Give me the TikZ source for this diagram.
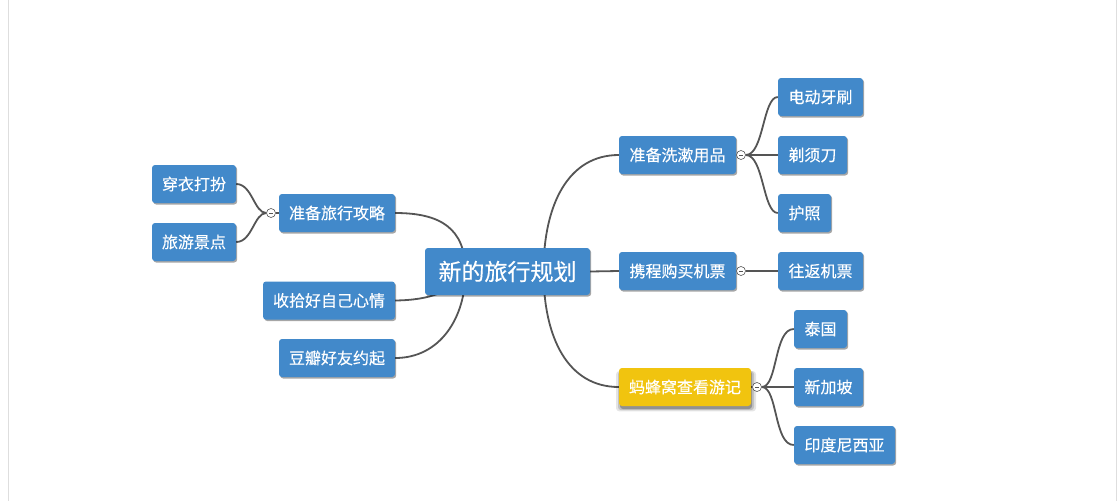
\documentclass[tikz,border=0pt]{standalone}
\usepackage{fontspec}
\setmainfont{Noto Sans CJK SC}[FakeBold=0.3]
\usetikzlibrary{shadows,backgrounds,calc}
\definecolor{nodeblue}{RGB}{66,137,202}
\definecolor{nodeyellow}{RGB}{241,196,15}
\definecolor{linegray}{RGB}{85,85,85}
\definecolor{framegray}{RGB}{222,222,222}
\tikzset{
  box/.style={fill=nodeblue, text=white, rounded corners=3pt, inner sep=0pt,
    minimum height=38pt, font=\fontsize{16}{19}\selectfont,
    drop shadow={shadow xshift=1.2pt, shadow yshift=-1.5pt, fill=black, opacity=0.35}},
  rootbox/.style={box, minimum height=47pt, font=\fontsize{23}{27}\selectfont},
  hotbox/.style={fill=nodeyellow, text=white, rounded corners=3pt, inner sep=0pt,
    minimum height=38pt, font=\fontsize{16}{19}\selectfont,
    drop shadow={shadow xshift=1pt, shadow yshift=-4pt, shadow scale=1.06, fill=black, opacity=0.10},
    drop shadow={shadow xshift=1pt, shadow yshift=-3.5pt, shadow scale=1.03, fill=black, opacity=0.15},
    drop shadow={shadow xshift=1pt, shadow yshift=-3pt, fill=black, opacity=0.25}},
  link/.style={draw=linegray, line width=1.8pt},
  fold/.style={circle, draw=linegray, fill=white, line width=0.6pt, inner sep=0pt, minimum size=9pt,
    path picture={\draw[linegray, line width=0.7pt] ([xshift=-1.6pt]path picture bounding box.center) -- ([xshift=1.6pt]path picture bounding box.center);}},
}
\begin{document}
\begin{tikzpicture}[x=1pt,y=-1pt]
\useasboundingbox (0,0) rectangle (1120,501);

% nodes
\node[rootbox, minimum width=165pt] (ctr) at (507.5,271.5) {新的旅行规划};
\node[box, minimum width=116pt] (gl) at (337,213) {准备旅行攻略};
\node[box, minimum width=84pt] (cy) at (194,184) {穿衣打扮};
\node[box, minimum width=84pt] (ly) at (194,242) {旅游景点};
\node[box, minimum width=132pt] (xq) at (329,300.5) {收拾好自己心情};
\node[box, minimum width=116pt] (db) at (337,358) {豆瓣好友约起};
\node[box, minimum width=117pt] (xs) at (677.5,155) {准备洗漱用品};
\node[box, minimum width=85pt] (dd) at (820.5,97) {电动牙刷};
\node[box, minimum width=69pt] (tx) at (812.5,155) {剃须刀};
\node[box, minimum width=53pt] (hz) at (804.5,213) {护照};
\node[box, minimum width=117pt] (xc) at (677.5,271) {携程购买机票};
\node[box, minimum width=85pt] (wf) at (820.5,271) {往返机票};
\node[hotbox, minimum width=132pt] (mf) at (685,387) {蚂蜂窝查看游记};
\node[box, minimum width=53pt] (tg) at (820.5,329) {泰国};
\node[box, minimum width=69pt] (xjp) at (828.5,387) {新加坡};
\node[box, minimum width=101pt] (yd) at (844.5,445) {印度尼西亚};

% fold markers
\node[fold] (f1) at (271,213) {};
\node[fold] (f2) at (741,155) {};
\node[fold] (f3) at (741,271) {};
\node[fold] (f4) at (757,387) {};

\begin{scope}[on background layer]
\fill[white] (0,0) rectangle (1120,501);
\draw[framegray, line width=0.8pt] (8.5,0) -- (8.5,501);
\draw[framegray, line width=0.8pt] (1116.5,0) -- (1116.5,501);
% root links
\draw[link] (gl.east) .. controls (440,213) and (465.5,228) .. ($(ctr.center)+(-42,0)$);
\draw[link] (xq.east) .. controls (430,300) and (452,292) .. ($(ctr.center)+(-40,0)$);
\draw[link] (db.east) .. controls (440,358) and (465.5,318) .. ($(ctr.center)+(-42,0)$);
\draw[link] (xs.west) .. controls (568,155) and (543.5,205) .. ($(ctr.center)+(36,0)$);
\draw[link] (ctr.east) -- (xc.west);
\draw[link] (mf.west) .. controls (568,387) and (543.5,338) .. ($(ctr.center)+(36,0)$);
% left branch
\draw[link] (gl.west) -- (f1.east);
\draw[link] (f1.west) .. controls +(-12,0) and +(16,0) .. (cy.east);
\draw[link] (f1.west) .. controls +(-12,0) and +(16,0) .. (ly.east);
% right branches
\draw[link] (xs.east) -- (f2.west);
\draw[link] (f2.east) .. controls +(18,0) and +(-15,0) .. (dd.west);
\draw[link] (f2.east) -- (tx.west);
\draw[link] (f2.east) .. controls +(18,0) and +(-15,0) .. (hz.west);
\draw[link] (xc.east) -- (f3.west);
\draw[link] (f3.east) -- (wf.west);
\draw[link] (mf.east) -- (f4.west);
\draw[link] (f4.east) .. controls +(16,0) and +(-20,0) .. (tg.west);
\draw[link] (f4.east) -- (xjp.west);
\draw[link] (f4.east) .. controls +(16,0) and +(-20,0) .. (yd.west);
\end{scope}
\end{tikzpicture}
\end{document}
